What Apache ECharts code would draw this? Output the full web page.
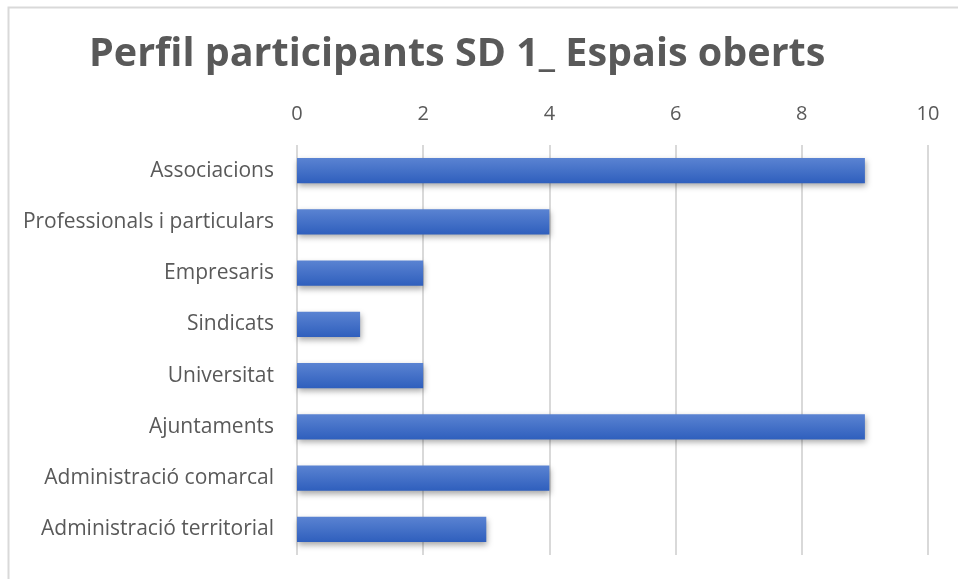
<!DOCTYPE html>
<html>
<head>
<meta charset="utf-8">
<script src="https://cdn.jsdelivr.net/npm/echarts@6/dist/echarts.min.js"></script>
<style>
  html, body { margin: 0; padding: 0; background: #fff; }
  #chart { width: 958px; height: 579px; }
</style>
</head>
<body>
<div id="chart"></div>
<script>
var categories = ['Associacions', 'Professionals i particulars', 'Empresaris', 'Sindicats',
    'Universitat', 'Ajuntaments', 'Administració comarcal', 'Administració territorial'];
var values = [9, 4, 2, 1, 2, 9, 4, 3];
var xTicks = [0, 2, 4, 6, 8, 10];

var myChart = echarts.init(document.getElementById('chart'));

var option = {
    backgroundColor: '#fff',
    animation: false,
    title: {
        text: 'Perfil participants SD 1_ Espais oberts',
        left: 84,
        top: 30,
        textStyle: {
            fontFamily: 'Open Sans',
            fontWeight: 'bold',
            fontSize: 39.5,
            color: '#595959'
        }
    },
    graphic: [{
        type: 'rect',
        shape: { x: 8.5, y: 7.5, width: 1000, height: 1000 },
        style: { fill: 'none', stroke: '#d9d9d9', lineWidth: 2 },
        silent: true
    }],
    grid: {
        left: 297,
        right: 30,
        top: 145,
        bottom: 24
    },
    xAxis: {
        type: 'value',
        position: 'top',
        min: xTicks[0],
        max: xTicks[xTicks.length - 1],
        interval: 2,
        axisLine: { show: false },
        axisTick: { show: false },
        axisLabel: {
            margin: 21,
            color: '#595959',
            fontFamily: 'Open Sans',
            fontSize: 20
        },
        splitLine: {
            lineStyle: { color: '#d9d9d9', width: 2 }
        }
    },
    yAxis: {
        type: 'category',
        inverse: true,
        data: categories,
        axisLine: { show: false },
        axisTick: { show: false },
        axisLabel: {
            margin: 23,
            color: '#595959',
            fontFamily: 'Open Sans',
            fontSize: 21
        }
    },
    series: [{
        type: 'bar',
        data: values,
        barWidth: '49%',
        itemStyle: {
            color: new echarts.graphic.LinearGradient(0, 0, 0, 1, [
                { offset: 0, color: '#5a83d2' },
                { offset: 1, color: '#2f5fbd' }
            ]),
            shadowBlur: 6,
            shadowOffsetY: 3,
            shadowOffsetX: 1,
            shadowColor: 'rgba(0, 0, 0, 0.35)'
        }
    }]
};

myChart.setOption(option);
</script>
</body>
</html>
